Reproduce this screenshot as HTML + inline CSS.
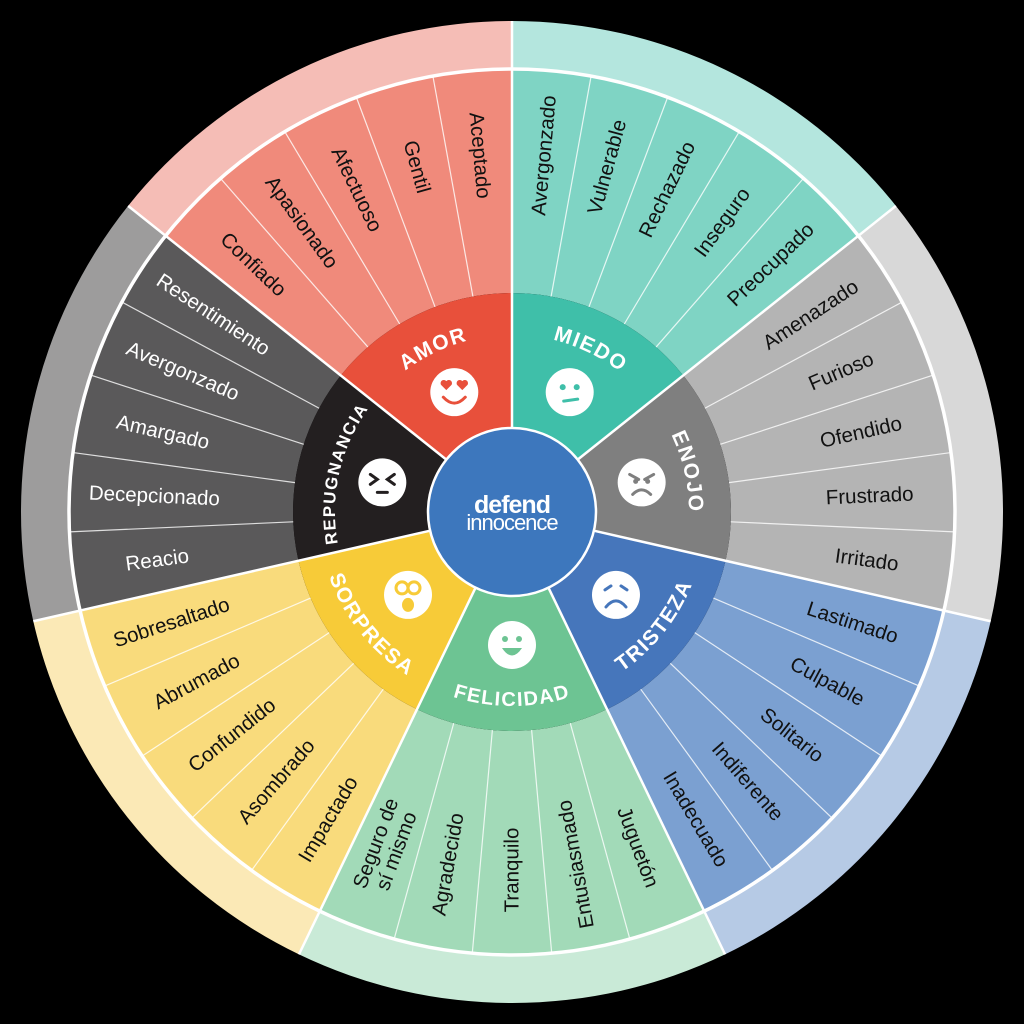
<!DOCTYPE html>
<html><head><meta charset="utf-8"><style>
html,body{margin:0;padding:0;background:#000;width:1024px;height:1024px;overflow:hidden}
svg{display:block}
</style></head><body>
<svg id="s" width="1024" height="1024" viewBox="0 0 1024 1024" xmlns="http://www.w3.org/2000/svg"></svg>
<script>
const C=512,NS="http://www.w3.org/2000/svg";
const svg=document.getElementById('s');
function P(r,t){const a=t*Math.PI/180;return [C+r*Math.sin(a),C-r*Math.cos(a)];}
function wedge(r0,r1,t0,t1,fill){
 const a=P(r1,t0),b=P(r1,t1),c=P(r0,t1),d=P(r0,t0);const lg=(t1-t0)>180?1:0;
 return `<path d="M${a} A${r1},${r1} 0 ${lg} 1 ${b} L${c} A${r0},${r0} 0 ${lg} 0 ${d}Z" fill="${fill}"/>`;}
const S=[
 {n:'MIEDO',i:'#3fbfa9',m:'#7fd4c4',o:'#b4e6de',tc:'#111',w:['Avergonzado','Vulnerable','Rechazado','Inseguro','Preocupado'],dir:'o',cw:1,fs:21},
 {n:'ENOJO',i:'#7f7f7f',m:'#b4b4b4',o:'#d8d8d8',tc:'#111',w:['Amenazado','Furioso','Ofendido','Frustrado','Irritado'],dir:'o',cw:1,fs:21},
 {n:'TRISTEZA',i:'#4676bb',m:'#7ba0d1',o:'#b6cae5',tc:'#111',w:['Lastimado','Culpable','Solitario','Indiferente','Inadecuado'],dir:'o',cw:0,fs:21},
 {n:'FELICIDAD',i:'#6dc493',m:'#a2dab8',o:'#c9ead7',tc:'#111',w:['Juguetón','Entusiasmado','Tranquilo','Agradecido','Seguro de|sí mismo'],dir:'i',cw:0,fs:20},
 {n:'SORPRESA',i:'#f7cb38',m:'#f9db7c',o:'#fbe9b6',tc:'#111',w:['Impactado','Asombrado','Confundido','Abrumado','Sobresaltado'],dir:'i',cw:0,fs:21},
 {n:'REPUGNANCIA',i:'#231f20',m:'#5a595a',o:'#9d9c9c',tc:'#fff',w:['Reacio','Decepcionado','Amargado','Avergonzado','Resentimiento'],dir:'i',cw:1,fs:17},
 {n:'AMOR',i:'#e8503b',m:'#f08a7b',o:'#f5bdb6',tc:'#111',w:['Confiado','Apasionado','Afectuoso','Gentil','Aceptado'],dir:'i',cw:1,fs:21}];
const SW=360/7,sw=SW/5;
let h='<defs>';
S.forEach((s,k)=>{const tc=k*SW+SW/2;
 if(s.cw){const r=177,a=P(r,tc-45),b=P(r,tc+45);h+=`<path id="p${k}" d="M${a} A${r},${r} 0 0 1 ${b}"/>`;}
 else{const r=194,a=P(r,tc+45),b=P(r,tc-45);h+=`<path id="p${k}" d="M${a} A${r},${r} 0 0 0 ${b}"/>`;}
});
h+='</defs>';
S.forEach((s,k)=>{const t0=k*SW,t1=t0+SW;
 h+=wedge(443,491,t0,t1,s.o);h+=wedge(219,443,t0,t1,s.m);h+=wedge(84,219,t0,t1,s.i);});
S.forEach((s,k)=>{for(let j=1;j<5;j++){const t=k*SW+j*sw;const a=P(219,t),b=P(443,t);h+=`<line x1="${a[0]}" y1="${a[1]}" x2="${b[0]}" y2="${b[1]}" stroke="#fff" stroke-opacity="0.8" stroke-width="1.2"/>`;}});
for(let k=0;k<7;k++){const t=k*SW;const a=P(84,t),b=P(491,t);h+=`<line x1="${a[0]}" y1="${a[1]}" x2="${b[0]}" y2="${b[1]}" stroke="#fff" stroke-width="2.5"/>`;}
h+=`<circle cx="512" cy="512" r="443" fill="none" stroke="#fff" stroke-width="3.5"/>`;
h+=`<circle cx="512" cy="512" r="84" fill="#3d77bd" stroke="#fff" stroke-width="2.5"/>`;
const F='font-family="Liberation Sans, sans-serif" font-size="20.5"';
S.forEach((s,k)=>{s.w.forEach((w,j)=>{const t=k*SW+(j+0.5)*sw;const p=P(358,t);
 let rot=(s.dir==='o'||w==='Juguetón')?t-90:t+90;
 const lines=w.split('|');
 if(lines.length==1)h+=`<text x="${p[0]}" y="${p[1]}" transform="rotate(${rot} ${p[0]} ${p[1]})" text-anchor="middle" dominant-baseline="central" ${F} fill="${s.tc}">${w}</text>`;
 else{h+=`<g transform="rotate(${rot} ${p[0]} ${p[1]})"><text x="${p[0]}" y="${p[1]-11}" text-anchor="middle" dominant-baseline="central" ${F} fill="${s.tc}">${lines[0]}</text><text x="${p[0]}" y="${p[1]+11}" text-anchor="middle" dominant-baseline="central" ${F} fill="${s.tc}">${lines[1]}</text></g>`;}
});});
S.forEach((s,k)=>{h+=`<text font-family="Liberation Sans, sans-serif" font-weight="bold" font-size="${s.fs}" letter-spacing="1.5" fill="#fff"><textPath href="#p${k}" startOffset="50%" text-anchor="middle">${s.n}</textPath></text>`;});
S.forEach((s,k)=>{const t=k*SW+SW/2;const[x,y]=P(133,t);const c=s.i;
 h+=`<g transform="translate(${x},${y})"><circle r="24" fill="#fff"/>`;
 if(k==0)h+=`<circle cx="-7" cy="-5" r="3" fill="${c}"/><circle cx="7" cy="-5" r="3" fill="${c}"/><line x1="-6" y1="9" x2="8" y2="7" stroke="${c}" stroke-width="3" stroke-linecap="round"/>`;
 if(k==1)h+=`<path d="M-12,-8 L-3,-3 M12,-8 L3,-3" stroke="${c}" stroke-width="3" stroke-linecap="round"/><circle cx="-6" cy="-1" r="2.5" fill="${c}"/><circle cx="6" cy="-1" r="2.5" fill="${c}"/><path d="M-9,12 Q0,3 9,12" fill="none" stroke="${c}" stroke-width="3" stroke-linecap="round"/>`;
 if(k==2)h+=`<path d="M-11,-5 L-5,-9 M11,-5 L5,-9" stroke="${c}" stroke-width="3" stroke-linecap="round"/><path d="M-10,12 Q0,0 10,12" fill="none" stroke="${c}" stroke-width="3" stroke-linecap="round"/>`;
 if(k==3)h+=`<circle cx="-7" cy="-6" r="3" fill="${c}"/><circle cx="7" cy="-6" r="3" fill="${c}"/><path d="M-10,3 L10,3 Q0,18 -10,3Z" fill="${c}"/>`;
 if(k==4)h+=`<circle cx="-6" cy="-7" r="6" fill="none" stroke="${c}" stroke-width="3"/><circle cx="6" cy="-7" r="6" fill="none" stroke="${c}" stroke-width="3"/><ellipse cx="0" cy="10" rx="6" ry="7" fill="${c}"/>`;
 if(k==5)h+=`<path d="M-12,-8 L-5,-3 L-12,2 M12,-8 L5,-3 L12,2" fill="none" stroke="${c}" stroke-width="3" stroke-linecap="round"/><line x1="-5" y1="10" x2="5" y2="10" stroke="${c}" stroke-width="3" stroke-linecap="round"/>`;
 if(k==6)h+=`<path d="M-8,-2 L-13,-7 A3,3 0 0 1 -8,-11 A3,3 0 0 1 -3,-7Z M8,-2 L3,-7 A3,3 0 0 1 8,-11 A3,3 0 0 1 13,-7Z" fill="${c}"/><path d="M-11,5 Q0,17 11,5" fill="none" stroke="${c}" stroke-width="3" stroke-linecap="round"/>`;
 h+='</g>';});
h+=`<text x="512" y="513" text-anchor="middle" font-family="Liberation Sans, sans-serif" font-weight="bold" font-size="25" fill="#fff" letter-spacing="-1">defend</text>`;
h+=`<text x="512" y="530" text-anchor="middle" font-family="Liberation Sans, sans-serif" font-size="22" fill="#fff" letter-spacing="-1">innocence</text>`;
svg.innerHTML=h;
</script>
</body></html>
